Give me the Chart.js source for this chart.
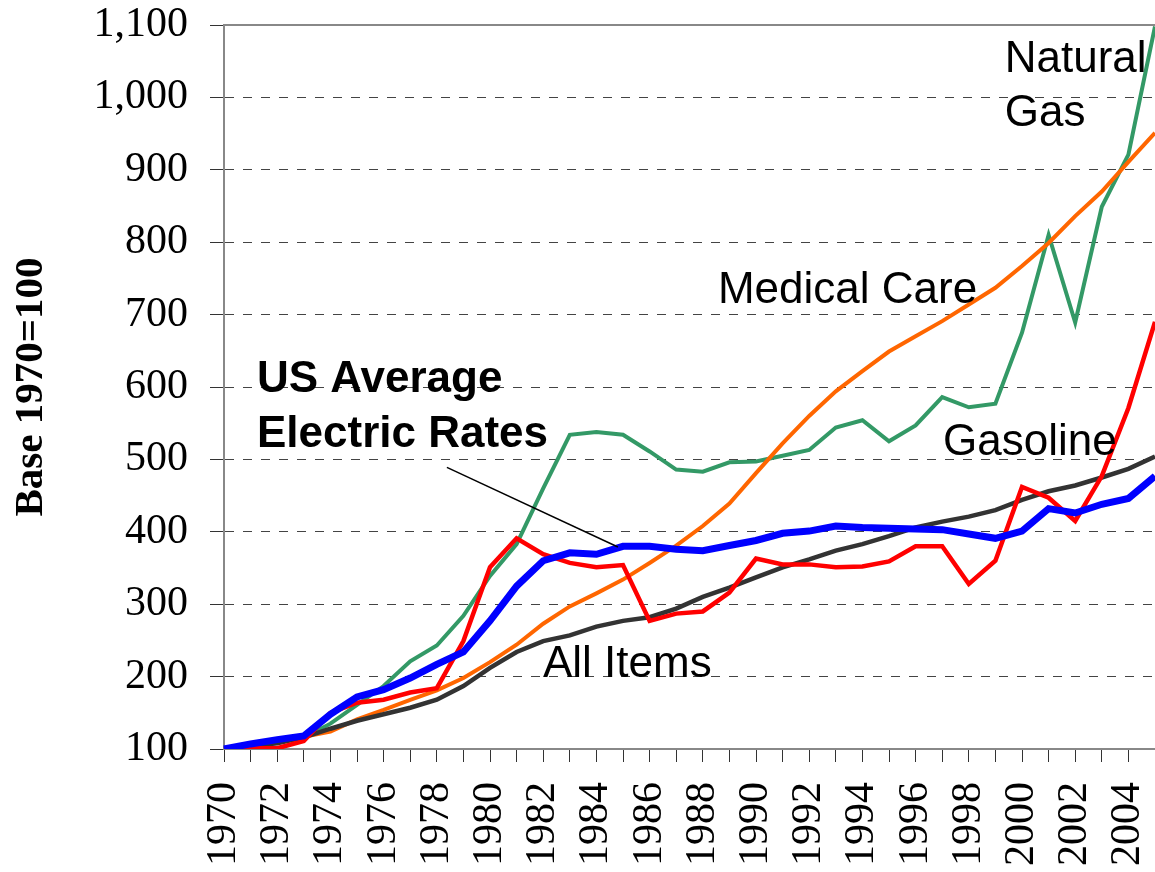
<!DOCTYPE html>
<html>
<head>
<meta charset="utf-8">
<title>Price indices, base 1970=100</title>
<script src="https://cdn.jsdelivr.net/npm/chart.js@4/dist/chart.umd.min.js"></script>
<style>
  html, body { margin: 0; padding: 0; background: #fff; }
  canvas { display: block; }
</style>
</head>
<body>
<canvas id="indexChart" width="1155" height="872"></canvas>
<script>
// === Data (index, 1970 = 100) ===
const years = [1970, 1971, 1972, 1973, 1974, 1975, 1976, 1977, 1978, 1979,
               1980, 1981, 1982, 1983, 1984, 1985, 1986, 1987, 1988, 1989,
               1990, 1991, 1992, 1993, 1994, 1995, 1996, 1997, 1998, 1999,
               2000, 2001, 2002, 2003, 2004, 2005];

const electricRates = [100, 107, 113, 118, 148, 172, 182, 198, 217, 234,
                       277, 325, 360, 371, 369, 380, 380, 376, 374, 381,
                       388, 398, 401, 408, 406, 405, 404, 403, 397, 391,
                       401, 432, 426, 438, 446, 477];

const gasoline = [100, 101, 101, 111, 150, 164, 168, 178, 184, 249,
                  351, 391, 369, 357, 351, 354, 277, 287, 290, 316,
                  363, 355, 355, 351, 352, 359, 380, 380, 328, 360,
                  462, 447, 415, 477, 571, 690];

const naturalGas = [100, 104, 109, 116, 135, 161, 187, 221, 243, 284,
                    339, 383, 460, 534, 538, 534, 511, 486, 483, 496,
                    497, 505, 513, 544, 554, 525, 547, 586, 572, 577,
                    675, 810, 689, 849, 921, 1098];

const medicalCare = [100, 106, 111, 117, 124, 141, 154, 168, 181, 198,
                     220, 244, 273, 297, 315, 334, 357, 381, 408, 439,
                     481, 522, 560, 594, 622, 649, 670, 691, 714, 737,
                     767, 799, 836, 870, 911, 951];

const allItems = [100, 104, 108, 116, 128, 139, 148, 157, 168, 187,
                  212, 234, 249, 257, 269, 277, 282, 294, 310, 323,
                  337, 351, 362, 374, 383, 394, 406, 414, 421, 430,
                  444, 456, 464, 475, 487, 504];

const yMin = 100;
const yMax = 1100;
const yStep = 100;

// === Labels written on the plot (year / index units) ===
const notes = [
    { text: 'Natural', year: 1999.35, value: 1035 },
    { text: 'Gas', year: 1999.35, value: 960 },
    { text: 'Medical Care', year: 1988.57, value: 716 },
    { text: 'Gasoline', year: 1997.03, value: 506 },
    { text: 'All Items', year: 1981.99, value: 199 },
    { text: 'US Average', year: 1971.24, value: 593, bold: true },
    { text: 'Electric Rates', year: 1971.24, value: 517, bold: true }
];
const leader = { from: [1978.38, 489], to: [1984.81, 379] };

const SANS = '"Liberation Sans", Arial, sans-serif';
const SERIF = '"Liberation Serif", "Times New Roman", serif';

// === Plot decorations ===
const notesPlugin = {
    id: 'notes',
    afterDatasetsDraw(chart) {
        const { ctx, chartArea, scales: { x, y } } = chart;
        const px = yr => x.getPixelForValue(yr - years[0]);

        ctx.save();
        // top frame line
        ctx.strokeStyle = '#888';
        ctx.lineWidth = 2;
        ctx.beginPath();
        ctx.moveTo(chartArea.left, y.getPixelForValue(yMax));
        ctx.lineTo(chartArea.right, y.getPixelForValue(yMax));
        ctx.stroke();

        // pointer to the electric rates line
        ctx.strokeStyle = '#000';
        ctx.lineWidth = 1.5;
        ctx.beginPath();
        ctx.moveTo(px(leader.from[0]), y.getPixelForValue(leader.from[1]));
        ctx.lineTo(px(leader.to[0]), y.getPixelForValue(leader.to[1]));
        ctx.stroke();

        ctx.fillStyle = '#000';
        ctx.textAlign = 'left';
        ctx.textBaseline = 'alphabetic';
        notes.forEach(n => {
            ctx.font = (n.bold ? 'bold ' : '') + '44px ' + SANS;
            ctx.fillText(n.text, px(n.year), y.getPixelForValue(n.value));
        });
        ctx.restore();
    }
};

const line = (label, values, color, width) => ({
    label,
    data: values,
    borderColor: color,
    backgroundColor: color,
    borderWidth: width,
    pointRadius: 0,
    tension: 0,
    fill: false
});

new Chart(document.getElementById('indexChart'), {
    type: 'line',
    data: {
        labels: years,
        // first dataset is drawn on top
        datasets: [
            line('US Average Electric Rates', electricRates, '#0000ff', 7),
            line('Gasoline', gasoline, '#ff0000', 4.5),
            line('All Items', allItems, '#333333', 4.5),
            line('Medical Care', medicalCare, '#ff6600', 4),
            line('Natural Gas', naturalGas, '#339966', 4)
        ]
    },
    options: {
        responsive: false,
        animation: false,
        layout: { padding: { top: 25, right: 0, bottom: 0, left: 0 } },
        plugins: {
            legend: { display: false },
            tooltip: { enabled: false }
        },
        scales: {
            x: {
                type: 'category',
                offset: false,
                grid: {
                    drawOnChartArea: false,
                    drawTicks: true,
                    tickLength: 13,
                    tickColor: '#333',
                    tickWidth: 1
                },
                border: { color: '#888', width: 2 },
                ticks: {
                    autoSkip: false,
                    maxRotation: 90,
                    minRotation: 90,
                    padding: 20,
                    color: '#000',
                    font: { family: SERIF, size: 42 },
                    callback: (val, i) => (years[i] % 2 === 0 ? String(years[i]) : '')
                },
                afterFit(scale) {
                    scale.height = 123;
                    scale.paddingLeft = 0;
                    scale.paddingRight = 0;
                }
            },
            y: {
                min: yMin,
                max: yMax,
                grid: {
                    color: c => (c.tick && (c.tick.value === yMin || c.tick.value === yMax)) ? 'rgba(0,0,0,0)' : '#444',
                    lineWidth: 1,
                    tickLength: 14,
                    tickColor: '#333',
                    tickWidth: 1,
                    tickBorderDash: []
                },
                border: { color: '#888', width: 2, dash: [9, 9] },
                ticks: {
                    stepSize: yStep,
                    padding: 22,
                    color: '#000',
                    font: { family: SERIF, size: 42 },
                    callback: v => v.toLocaleString('en-US')
                },
                title: {
                    display: true,
                    text: 'Base 1970=100',
                    color: '#000',
                    font: { family: SERIF, size: 41, weight: 'bold' },
                    padding: { top: 7, bottom: 0 }
                },
                afterFit(scale) {
                    scale.width = 224;
                    scale.paddingTop = 0;
                    scale.paddingBottom = 0;
                }
            }
        }
    },
    plugins: [notesPlugin]
});
</script>
</body>
</html>
